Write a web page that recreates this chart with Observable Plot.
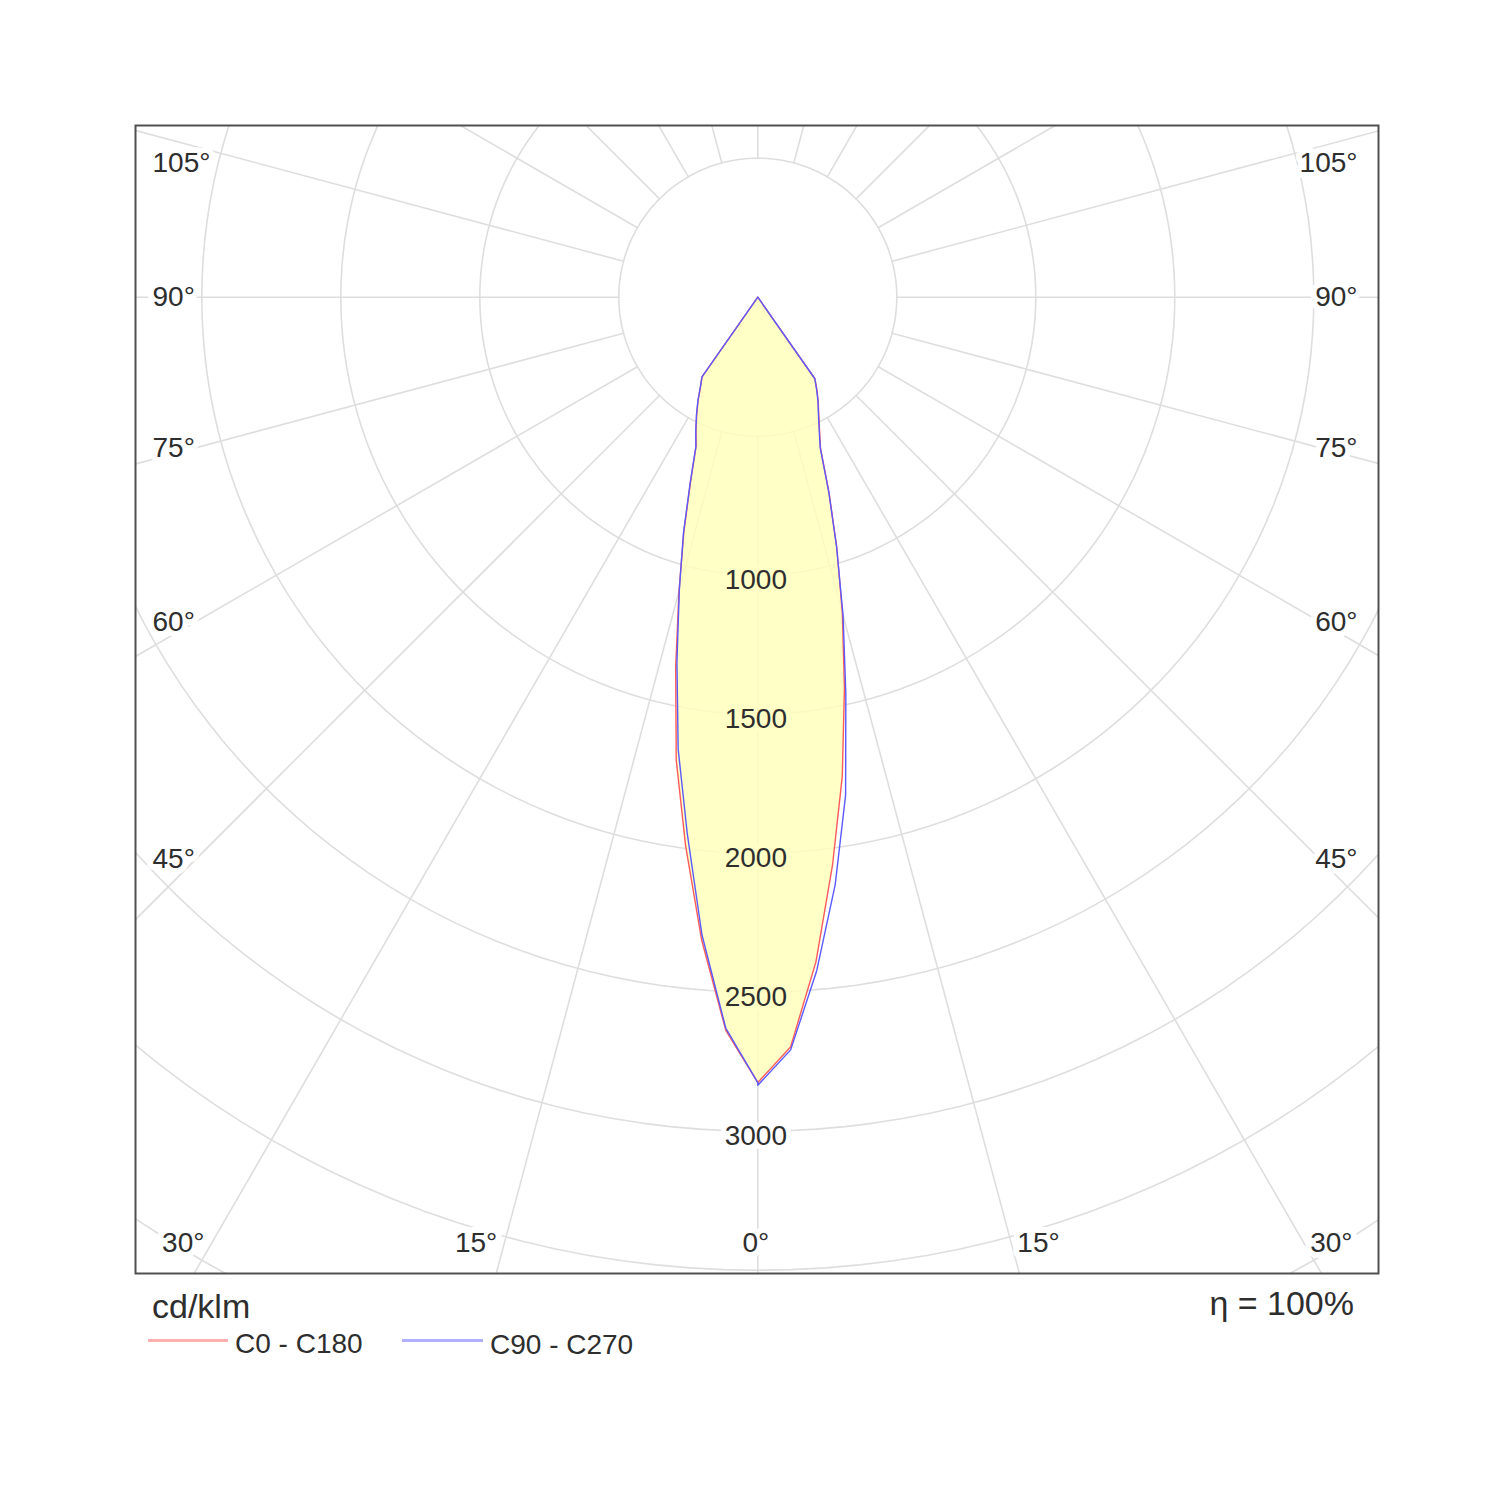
<!DOCTYPE html>
<html>
<head>
<meta charset="utf-8">
<script src="https://cdn.jsdelivr.net/npm/d3@7"></script>
<script src="https://cdn.jsdelivr.net/npm/@observablehq/plot@0.6"></script>
<style>
  body { margin: 0; background: #fff; font-family: "Liberation Sans", Arial, sans-serif; }
  #wrap { position: relative; width: 1500px; height: 1500px; }
  #legend { position: relative; width: 1500px; height: 210px; }
  .lg { position: absolute; white-space: nowrap; color: #2e2e2e; line-height: 1; }
  .sw { position: absolute; height: 3px; }
</style>
</head>
<body>
<div id="wrap">
  <div id="chart"></div>
  <div id="legend"></div>
</div>
<script>
// ---------- data (cd/klm), gamma measured from nadir ----------
const gamma = [0, 2.5, 5, 7.5, 10, 12.5, 15, 17.5, 20, 22.5, 25, 27.5, 30, 32.5, 35, 37.5, 40];
const c0   = [2825, 2700, 2400, 2060, 1750, 1440, 1175, 945, 750, 590, 525, 475, 435, 396, 358, 0, 0];
const c180 = [2825, 2640, 2320, 1990, 1690, 1365, 1095, 885, 708, 580, 526, 476, 430, 384, 350, 0, 0];
const c90  = [2835, 2710, 2432, 2132, 1819, 1463, 1185, 943, 747, 587, 522, 472, 433, 394, 357, 0, 0];
const c270 = [2825, 2633, 2303, 1945, 1650, 1344, 1091, 889, 711, 582, 528, 478, 431, 385, 350, 0, 0];

const ringValues = [500, 1000, 1500, 2000, 2500, 3000, 3500, 4000, 4500];
const ringLabels = [1000, 1500, 2000, 2500, 3000];
const spokeAngles = [0, 15, 30, 45, 60, 75, 90, 105, 120, 135, 150, 165, 180, 195, 210, 225, 240, 255, 270, 285, 300, 315, 330, 345];
const angleTicks = [0, 15, 30, 45, 60, 75, 90, 105];
const seriesNames = ["C0 - C180", "C90 - C270"];
const unitLabel = "cd/klm";
const effLabel = "η = 100%";

// ---------- layout ----------
const W = 1500, H = 1290;
const mL = 135, mR = 122, mT = 125, mB = 17;
const k = 0.278;              // px per cd
const cxPx = 757.3 - mL;      // centre inside frame
const cyPx = 296.7 - mT;
const fw = W - mL - mR, fh = H - mT - mB;
const xDomain = [-cxPx / k, (fw - cxPx) / k];
const yDomain = [-(fh - cyPx) / k, cyPx / k];
const px = v => v / k;
const rad = d => d * Math.PI / 180;

const gridColor = "#dedede";
const fillColor = "#ffffb8";
const fillOp = 0.8;
const haloYellow = "#ffffc6";
const redColor = "#ff5a5a";
const blueColor = "#5a5aff";
const textColor = "#2e2e2e";

function half(vals, side) {
  return gamma.map((g, i) => ({ x: side * vals[i] * Math.sin(rad(g)), y: -vals[i] * Math.cos(rad(g)) }));
}
function curve(right, left) {
  return [...half(right, 1).reverse(), ...half(left, -1)];
}
const redPts = curve(c0, c180);
const bluePts = curve(c90, c270);

const circles = [];
for (const r of ringValues) {
  for (let a = 0; a <= 360; a += 2) circles.push({ r, x: r * Math.sin(rad(a)), y: -r * Math.cos(rad(a)) });
}
const spokes = [];
for (const a of spokeAngles) {
  for (const r of [500, 6000]) spokes.push({ a, x: r * Math.sin(rad(a)), y: -r * Math.cos(rad(a)) });
}

const ringText = ringLabels.map(v => ({ x: 0, y: -v, t: String(v), inside: v < c0[0] }));

// angle labels placed where each ray meets the frame
const sideStart = [], sideEnd = [], botStart = [], botEnd = [], botMid = [];
const [x0, x1] = xDomain, [y0, y1] = yDomain;
for (const side of [-1, 1]) {
  for (const t of angleTicks) {
    if (t === 0 && side < 0) continue;
    const s = Math.sin(rad(t)), c = Math.cos(rad(t));
    const edge = side < 0 ? -x0 : x1;
    const label = t + "°";
    if (c > 0 && (-y0) * s / c <= edge) {
      const yb = y0 + px(30);
      const xr = (-yb) * s / c;
      if (t === 0) botMid.push({ x: 0, y: yb, t: label });
      else if (side < 0) botEnd.push({ x: -(xr + px(7)), y: yb, t: label });
      else botStart.push({ x: xr + px(6), y: yb, t: label });
    } else {
      const xi = px(562);
      let yl = -xi * c / s;
      yl = Math.min(yl, y1 - px(38));
      if (side < 0) sideStart.push({ x: x0 + px(17), y: yl, t: label });
      else sideEnd.push({ x: x1 - px(21), y: yl, t: label });
    }
  }
}

const textStyle = { fill: textColor, fontSize: 28, stroke: "white", strokeWidth: 12, strokeLinejoin: "round", paintOrder: "stroke" };

const chart = Plot.plot({
  width: W, height: H,
  marginLeft: mL, marginRight: mR, marginTop: mT, marginBottom: mB,
  x: { domain: xDomain, axis: null },
  y: { domain: yDomain, axis: null },
  style: { fontFamily: "Liberation Sans, Arial, sans-serif", background: "white", overflow: "visible" },
  marks: [
    Plot.line(circles, { x: "x", y: "y", z: "r", stroke: gridColor, strokeWidth: 1.6, clip: true }),
    Plot.line(spokes, { x: "x", y: "y", z: "a", stroke: gridColor, strokeWidth: 1.6, clip: true }),
    Plot.line(redPts, { x: "x", y: "y", fill: fillColor, fillOpacity: fillOp, stroke: "none" }),
    Plot.text(ringText.filter(d => d.inside), { x: "x", y: "y", text: "t", dx: -2, dy: 5, ...textStyle, stroke: haloYellow, strokeWidth: 10 }),
    Plot.text(ringText.filter(d => !d.inside), { x: "x", y: "y", text: "t", dx: -2, dy: 5, ...textStyle, strokeWidth: 10 }),
    Plot.line(redPts, { x: "x", y: "y", stroke: redColor, strokeWidth: 1.4 }),
    Plot.line(bluePts, { x: "x", y: "y", stroke: blueColor, strokeWidth: 1.4 }),
    Plot.text(sideStart, { x: "x", y: "y", text: "t", textAnchor: "start", ...textStyle }),
    Plot.text(sideEnd, { x: "x", y: "y", text: "t", textAnchor: "end", ...textStyle }),
    Plot.text(botStart, { x: "x", y: "y", text: "t", textAnchor: "start", ...textStyle }),
    Plot.text(botEnd, { x: "x", y: "y", text: "t", textAnchor: "end", ...textStyle }),
    Plot.text(botMid, { x: "x", y: "y", text: "t", textAnchor: "middle", dx: -2, ...textStyle }),
    Plot.frame({ stroke: "#505050", strokeWidth: 2 })
  ]
});
document.getElementById("chart").appendChild(chart);

// ---------- legend below the SVG ----------
const lg = document.getElementById("legend");
function addText(txt, css) {
  const d = document.createElement("div");
  d.className = "lg"; d.textContent = txt;
  Object.assign(d.style, css);
  lg.appendChild(d);
}
function addSwatch(color, css) {
  const d = document.createElement("div");
  d.className = "sw"; d.style.background = color;
  Object.assign(d.style, css);
  lg.appendChild(d);
}
addText(unitLabel, { left: "152px", top: "-1px", fontSize: "34px" });
addText(effLabel, { right: "146px", top: "-4px", fontSize: "34px" });
addSwatch("#ffb0b0", { left: "148px", width: "80px", top: "49px" });
addText(seriesNames[0], { left: "235px", top: "40px", fontSize: "28px" });
addSwatch("#b0b0ff", { left: "402px", width: "81px", top: "49px" });
addText(seriesNames[1], { left: "490px", top: "41px", fontSize: "28px" });
</script>
</body>
</html>
